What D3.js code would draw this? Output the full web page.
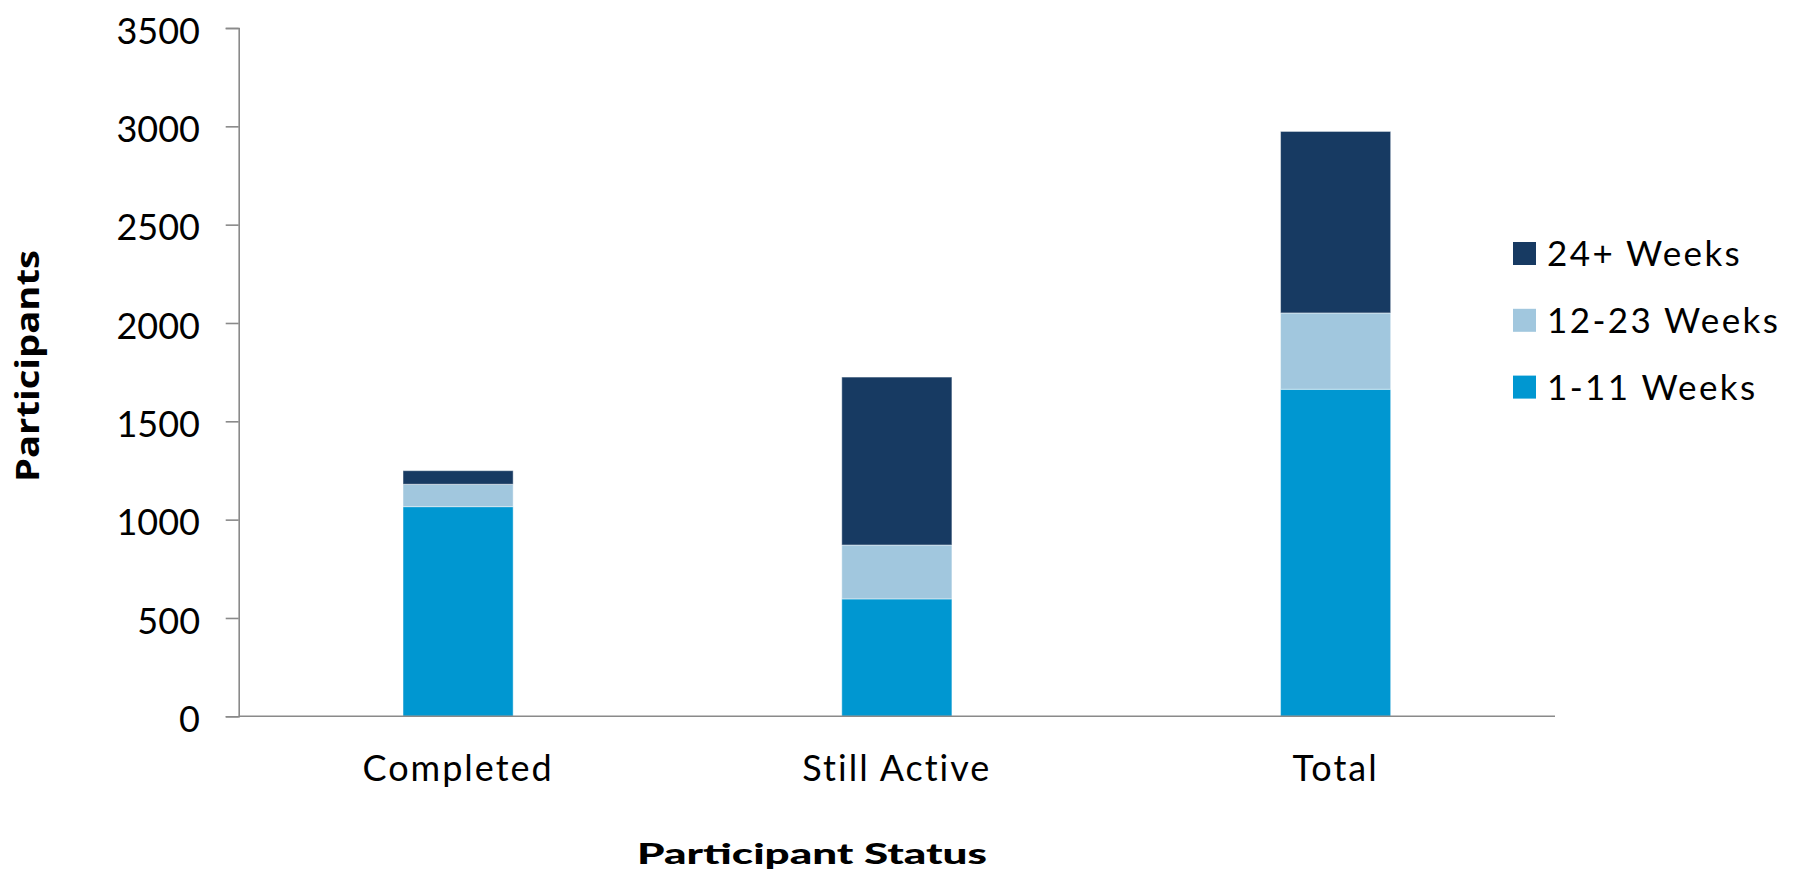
<!DOCTYPE html>
<html>
<head>
<meta charset="utf-8">
<script src="https://cdn.jsdelivr.net/npm/d3@7"></script>
<style>
  html, body { margin: 0; padding: 0; background: #fff; }
  svg { display: block; }
</style>
</head>
<body>
<svg id="chart" width="1794" height="878"></svg>
<script>
// Participants by status, split by weeks in the program
const categories = ["Completed", "Still Active", "Total"];
const seriesNames = ["1-11 Weeks", "12-23 Weeks", "24+ Weeks"];
const weeks1to11 = [1066, 597, 1663];
const weeks12to23 = [114, 274, 388];
const weeks24plus = [69, 854, 923];
const yTicks = [0, 500, 1000, 1500, 2000, 2500, 3000, 3500];
const colors = ["#0097D1", "#A1C7DE", "#173A62"];

const svg = d3.select("#chart");
const plotLeft = 238.7, plotRight = 1555, plotTop = 28, plotBottom = 716.3;

const x = d3.scaleBand()
  .domain(categories)
  .range([plotLeft, plotRight])
  .paddingInner(0.749)
  .paddingOuter(0.3745);

const y = d3.scaleLinear().domain([0, 3500]).range([plotBottom, plotTop]);

const rows = categories.map((c, i) => ({
  category: c,
  "1-11 Weeks": weeks1to11[i],
  "12-23 Weeks": weeks12to23[i],
  "24+ Weeks": weeks24plus[i]
}));
const stacked = d3.stack().keys(seriesNames)(rows);

const textFont = "Lato, 'Open Sans', sans-serif";

// bars
svg.append("g").selectAll("g")
  .data(stacked)
  .join("g")
  .attr("fill", (d, i) => colors[i])
  .selectAll("rect")
  .data(d => d)
  .join("rect")
  .attr("x", d => x(d.data.category))
  .attr("width", x.bandwidth())
  .attr("y", d => y(d[1]))
  .attr("height", d => y(d[0]) - y(d[1]))
  .attr("stroke", "rgba(255,255,255,0.45)")
  .attr("stroke-width", 1);

// y axis
const yAxis = svg.append("g")
  .attr("transform", `translate(${plotLeft},0)`)
  .call(d3.axisLeft(y).tickValues(yTicks).tickFormat(d3.format("d"))
    .tickSize(13).tickPadding(25.7));
yAxis.select(".domain").attr("stroke", "#8a8a8a").attr("stroke-width", 1.6);
yAxis.selectAll(".tick line").attr("stroke", "#8a8a8a").attr("stroke-width", 1.6);
yAxis.selectAll("text")
  .attr("font-family", textFont)
  .attr("font-size", 36)
  .attr("dy", "0.42em")
  .attr("fill", "#000");

// x axis
const xAxis = svg.append("g")
  .attr("transform", `translate(0,${plotBottom})`)
  .call(d3.axisBottom(x).tickSize(0).tickPadding(39));
xAxis.select(".domain").attr("stroke", "#8a8a8a").attr("stroke-width", 1.6)
  .attr("d", `M${plotLeft},0H${plotRight}`);
xAxis.selectAll("text")
  .attr("font-family", textFont)
  .attr("font-size", 36)
  .attr("letter-spacing", 2)
  .attr("fill", "#000");

// axis titles
svg.append("text")
  .attr("x", 812)
  .attr("y", 864)
  .attr("text-anchor", "middle")
  .attr("font-family", textFont)
  .attr("font-weight", 900)
  .attr("font-size", 29)
  .attr("textLength", 350)
  .attr("lengthAdjust", "spacingAndGlyphs")
  .text("Participant Status");

svg.append("text")
  .attr("transform", "translate(39,366) rotate(-90)")
  .attr("text-anchor", "middle")
  .attr("font-family", "'Open Sans', sans-serif")
  .attr("font-weight", "bold")
  .attr("font-size", 32)
  .attr("textLength", 232)
  .attr("lengthAdjust", "spacingAndGlyphs")
  .text("Participants");

// legend, top series first
const legendItems = seriesNames.map((n, i) => ({ name: n, color: colors[i] })).reverse();
const legend = svg.append("g").selectAll("g")
  .data(legendItems)
  .join("g")
  .attr("transform", (d, i) => `translate(1513,${242 + i * 66.8})`);
legend.append("rect")
  .attr("width", 23).attr("height", 23)
  .attr("fill", d => d.color);
legend.append("text")
  .attr("x", 34)
  .attr("y", 24)
  .attr("font-family", textFont)
  .attr("font-size", 35)
  .attr("letter-spacing", 2.4)
  .attr("fill", "#000")
  .text(d => d.name);
</script>
</body>
</html>
